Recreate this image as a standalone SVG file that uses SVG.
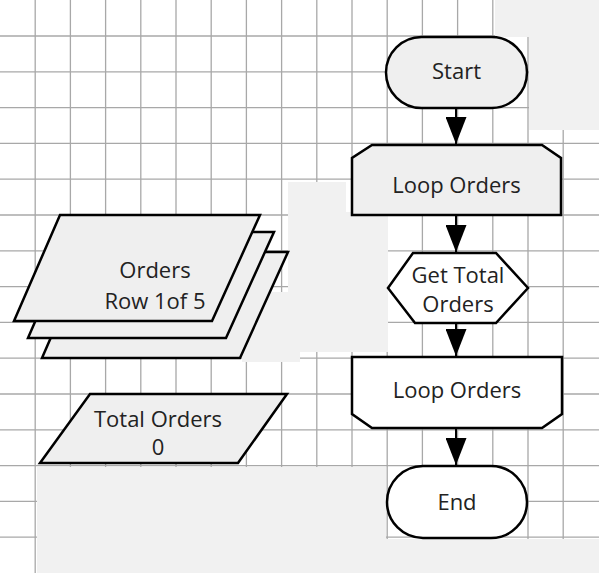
<svg xmlns="http://www.w3.org/2000/svg" width="599" height="573" viewBox="0 0 599 573">
<defs>
<style>
.grid line{stroke:#a8a8a8;stroke-width:1.3}
.patch{fill:#f1f1f1}
.shape{stroke:#000;stroke-width:2.5;stroke-linejoin:miter}
.g{fill:#efefef}
.w{fill:#ffffff}
.t{font-family:"Open Sans","Noto Sans","DejaVu Sans",sans-serif;font-size:22px;fill:#222;text-anchor:middle}
.conn{stroke:#000;stroke-width:2;fill:none}
</style>
<marker id="ah" viewBox="0 0 27 21" refX="27" refY="10.5" markerWidth="27" markerHeight="21" markerUnits="userSpaceOnUse" orient="auto">
<path d="M0,0 L27,10.5 L0,21 Z" fill="#000"/>
</marker>
</defs>
<rect width="599" height="573" fill="#fff"/>
<g class="grid">
<line x1="0" y1="36" x2="599" y2="36"/><line x1="0" y1="71.8" x2="599" y2="71.8"/><line x1="0" y1="107.6" x2="599" y2="107.6"/><line x1="0" y1="143.4" x2="599" y2="143.4"/><line x1="0" y1="179.2" x2="599" y2="179.2"/><line x1="0" y1="215" x2="599" y2="215"/><line x1="0" y1="250.8" x2="599" y2="250.8"/><line x1="0" y1="286.6" x2="599" y2="286.6"/><line x1="0" y1="322.4" x2="599" y2="322.4"/><line x1="0" y1="358.2" x2="599" y2="358.2"/><line x1="0" y1="394" x2="599" y2="394"/><line x1="0" y1="429.8" x2="599" y2="429.8"/><line x1="0" y1="465.6" x2="599" y2="465.6"/><line x1="0" y1="501.4" x2="599" y2="501.4"/><line x1="0" y1="537.2" x2="599" y2="537.2"/>
<line x1="35.2" y1="0" x2="35.2" y2="573"/><line x1="70.4" y1="0" x2="70.4" y2="573"/><line x1="105.6" y1="0" x2="105.6" y2="573"/><line x1="140.8" y1="0" x2="140.8" y2="573"/><line x1="176" y1="0" x2="176" y2="573"/><line x1="211.2" y1="0" x2="211.2" y2="573"/><line x1="246.4" y1="0" x2="246.4" y2="573"/><line x1="281.6" y1="0" x2="281.6" y2="573"/><line x1="316.8" y1="0" x2="316.8" y2="573"/><line x1="352" y1="0" x2="352" y2="573"/><line x1="387.2" y1="0" x2="387.2" y2="573"/><line x1="422.4" y1="0" x2="422.4" y2="573"/><line x1="457.6" y1="0" x2="457.6" y2="573"/><line x1="492.8" y1="0" x2="492.8" y2="573"/><line x1="528" y1="0" x2="528" y2="573"/><line x1="563.2" y1="0" x2="563.2" y2="573"/>
</g>
<g id="patches">
<path class="patch" d="M495,0 H599 V130 H529 V37 H495 Z"/>
<path class="patch" d="M288,182 H346 V212 H388 V352 H300 V362 H242 V292 H288 Z"/>
<path class="patch" d="M37,467 H386 V539 H599 V573 H37 Z"/>
</g>
<g id="connectors">
<line class="conn" x1="456" y1="108" x2="456" y2="144" marker-end="url(#ah)"/>
<line class="conn" x1="456" y1="215" x2="456" y2="252" marker-end="url(#ah)"/>
<line class="conn" x1="456" y1="323" x2="456" y2="356" marker-end="url(#ah)"/>
<line class="conn" x1="456" y1="428" x2="456" y2="465" marker-end="url(#ah)"/>
</g>
<g id="start">
<rect class="shape g" x="386" y="37" width="141" height="71" rx="35.5"/>
<text class="t" x="456.5" y="79">Start</text>
</g>
<g id="loop1">
<polygon class="shape g" points="372,145 542,145 561,158 561,215 352,215 352,158"/>
<text class="t" x="456.5" y="193">Loop Orders</text>
</g>
<g id="getTotal">
<polygon class="shape w" points="413,253 496,253 528,288 496,323 415,323 388,288"/>
<text class="t" x="458" y="283">Get Total</text>
<text class="t" x="458" y="312">Orders</text>
</g>
<g id="loop2">
<polygon class="shape w" points="352,357 562,357 562,414 542,428 372,428 352,414"/>
<text class="t" x="457" y="398">Loop Orders</text>
</g>
<g id="end">
<rect class="shape w" x="387" y="466" width="140" height="72" rx="36"/>
<text class="t" x="457" y="510">End</text>
</g>
<g id="ordersStack">
<polygon class="shape g" points="88,252 288,252 240,358 42,358"/>
<polygon class="shape g" points="74,232 274,232 226,338 28,338"/>
<polygon class="shape g" points="60,215 260,215 212,321 14,321"/>
<text class="t" x="155" y="278">Orders</text>
<text class="t" x="155" y="309">Row 1of 5</text>
</g>
<g id="totalOrders">
<polygon class="shape g" points="90,394 287,394 238,463 40,463"/>
<text class="t" x="158" y="427">Total Orders</text>
<text class="t" x="158" y="455">0</text>
</g>
</svg>
